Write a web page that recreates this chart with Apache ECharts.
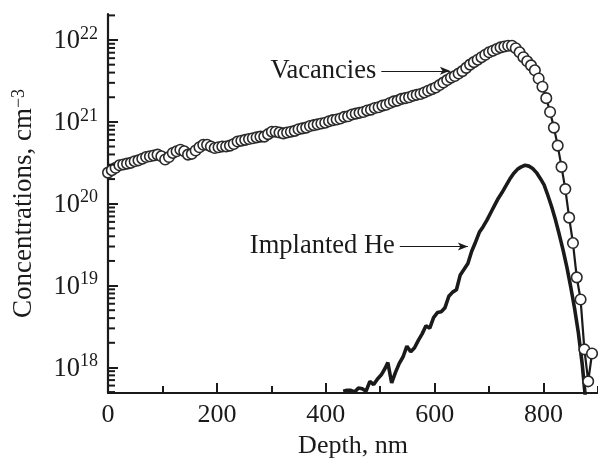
<!DOCTYPE html>
<html>
<head>
<meta charset="utf-8">
<script src="https://cdn.jsdelivr.net/npm/echarts@6/dist/echarts.min.js"></script>
<style>
  html, body { margin: 0; padding: 0; background: #fff; }
  #chart { width: 598px; height: 464px; }
</style>
</head>
<body>
<div id="chart"></div>
<script>
// depth grid of the vacancy profile, nm
const vacDepth = [
  0, 7, 14, 21, 28, 35, 42, 49, 56, 63,
  70, 77, 84, 91, 98, 105, 112, 119, 126, 133,
  140, 147, 154, 161, 168, 175, 182, 189, 196, 203,
  210, 217, 224, 231, 238, 245, 252, 259, 266, 273,
  280, 287, 294, 301, 308, 315, 322, 329, 336, 343,
  350, 357, 364, 371, 378, 385, 392, 399, 406, 413,
  420, 427, 434, 441, 448, 455, 462, 469, 476, 483,
  490, 497, 504, 511, 518, 525, 532, 539, 546, 553,
  560, 567, 574, 581, 588, 595, 602, 609, 616, 623,
  630, 637, 644, 651, 658, 665, 672, 679, 686, 693,
  700, 707, 714, 721, 728, 735, 742, 749, 756, 763,
  770, 777, 784, 791, 798, 805, 812, 819, 826, 833,
  840, 847, 854, 861, 868, 875, 882, 889
]
// vacancies, cm^-3
const vacancies = [
  2.40e20, 2.57e20, 2.75e20, 2.95e20, 3.02e20, 3.09e20, 3.16e20, 3.31e20, 3.39e20, 3.55e20,
  3.72e20, 3.80e20, 3.89e20, 3.98e20, 3.80e20, 3.47e20, 3.72e20, 4.17e20, 4.37e20, 4.57e20,
  4.37e20, 3.98e20, 4.07e20, 4.47e20, 4.90e20, 5.25e20, 5.25e20, 5.01e20, 4.79e20, 4.90e20,
  5.01e20, 5.01e20, 5.13e20, 5.37e20, 5.75e20, 5.89e20, 6.03e20, 6.17e20, 6.31e20, 6.46e20,
  6.61e20, 6.61e20, 7.08e20, 7.59e20, 7.59e20, 7.41e20, 7.24e20, 7.41e20, 7.59e20, 7.76e20,
  8.13e20, 8.32e20, 8.51e20, 8.91e20, 9.12e20, 9.33e20, 9.55e20, 9.77e20, 1.02e21, 1.05e21,
  1.07e21, 1.10e21, 1.15e21, 1.17e21, 1.23e21, 1.26e21, 1.29e21, 1.32e21, 1.38e21, 1.41e21,
  1.48e21, 1.51e21, 1.58e21, 1.62e21, 1.70e21, 1.78e21, 1.82e21, 1.91e21, 1.95e21, 2.00e21,
  2.09e21, 2.14e21, 2.19e21, 2.29e21, 2.40e21, 2.51e21, 2.63e21, 2.82e21, 3.02e21, 3.24e21,
  3.47e21, 3.63e21, 3.89e21, 4.17e21, 4.57e21, 5.01e21, 5.37e21, 5.75e21, 6.17e21, 6.61e21,
  7.08e21, 7.41e21, 7.76e21, 8.13e21, 8.32e21, 8.51e21, 8.51e21, 7.94e21, 7.08e21, 6.17e21,
  5.50e21, 4.90e21, 4.27e21, 3.39e21, 2.69e21, 1.95e21, 1.32e21, 8.51e20, 5.13e20, 2.82e20,
  1.51e20, 6.76e19, 3.31e19, 1.26e19, 6.76e18, 1.66e18, 6.76e17, 1.48e18
]
// implanted He profile
const heDepth = [
  432, 439, 446, 453, 460, 467, 474, 481, 488, 495,
  502, 509, 514, 521, 528, 535, 542, 549, 556, 563,
  570, 577, 584, 591, 598, 605, 612, 619, 626, 633,
  640, 647, 654, 661, 668, 675, 682, 689, 696, 703,
  710, 717, 724, 731, 738, 745, 752, 759, 766, 773,
  780, 787, 794, 801, 808, 815, 822, 829, 836, 843,
  850, 857, 864, 871, 878
]
const helium = [
  5.13e17, 5.25e17, 5.25e17, 5.01e17, 5.62e17, 5.50e17, 5.13e17, 6.76e17, 6.17e17, 7.24e17,
  8.13e17, 9.77e17, 1.15e18, 6.46e17, 8.71e17, 1.12e18, 1.35e18, 1.82e18, 1.55e18, 1.74e18,
  2.14e18, 2.57e18, 3.24e18, 3.02e18, 4.07e18, 4.68e18, 4.79e18, 5.37e18, 7.41e18, 8.32e18,
  8.91e18, 1.35e19, 1.58e19, 1.86e19, 2.63e19, 3.39e19, 4.47e19, 5.25e19, 6.31e19, 7.76e19,
  9.55e19, 1.17e20, 1.38e20, 1.66e20, 2.00e20, 2.34e20, 2.63e20, 2.82e20, 2.95e20, 2.88e20,
  2.69e20, 2.40e20, 2.04e20, 1.70e20, 1.26e20, 9.12e19, 6.31e19, 4.17e19, 2.69e19, 1.66e19,
  9.55e18, 5.25e18, 2.63e18, 1.10e18, 3.55e17
]
// minor ticks of the log axis
const yMinorTicks = [
  5e17, 6e17, 7e17, 8e17, 9e17,
  2e18, 3e18, 4e18, 5e18, 6e18, 7e18, 8e18, 9e18,
  2e19, 3e19, 4e19, 5e19, 6e19, 7e19, 8e19, 9e19,
  2e20, 3e20, 4e20, 5e20, 6e20, 7e20, 8e20, 9e20,
  2e21, 3e21, 4e21, 5e21, 6e21, 7e21, 8e21, 9e21,
  2e22
]
const yMin = 4.87e17
const yMax = 2.08e22
// arrow annotations: [label, x0, x1, y]
const vacArrow = ['Vacancies', 502, 628, 4.2e21]
const heArrow = ['Implanted He', 536, 661, 3.0e19]

const FONT = 'Liberation Serif'
const INK = '#1a1a1a'

const chart = echarts.init(document.getElementById('chart'), null, { renderer: 'canvas' })

function zip(xs, ys) {
  return xs.map((x, i) => [x, ys[i]])
}

function arrowLine(a) {
  return {
    silent: true,
    symbol: ['none', 'arrow'],
    symbolSize: [6, 10],
    lineStyle: { color: INK, width: 1, type: 'solid' },
    label: {
      show: true,
      position: 'start',
      distance: 5,
      formatter: a[0],
      color: INK,
      fontFamily: FONT,
      fontSize: 26.5
    },
    data: [[{ coord: [a[1], a[3]] }, { coord: [a[2], a[3]] }]]
  }
}

const option = {
  animation: false,
  backgroundColor: '#fff',
  grid: { left: 108, right: 0, top: 14, bottom: 71, containLabel: false },
  xAxis: [
    {
      type: 'value',
      position: 'bottom',
      min: 0,
      max: 900,
      interval: 200,
      name: 'Depth, nm',
      nameLocation: 'middle',
      nameGap: 39,
      nameTextStyle: { fontFamily: FONT, fontSize: 26, color: INK },
      axisLine: { show: true, lineStyle: { color: INK, width: 2.2 } },
      axisTick: { show: true, inside: true, length: 10, lineStyle: { color: INK, width: 2 } },
      axisLabel: {
        margin: 9, showMaxLabel: false,
        fontFamily: FONT, fontSize: 26, color: INK
      },
      splitLine: { show: false }
    },
    {
      type: 'value',
      position: 'bottom',
      min: 0,
      max: 900,
      interval: 100,
      axisLine: { show: false },
      axisTick: { show: true, inside: true, length: 7, lineStyle: { color: INK, width: 2 } },
      axisLabel: { show: false },
      splitLine: { show: false }
    }
  ],
  yAxis: {
    type: 'log',
    logBase: 10,
    min: yMin,
    max: yMax,
    name: 'Concentrations, cm{sup|−3}',
    nameLocation: 'middle',
    nameGap: 71,
    nameTextStyle: {
      fontFamily: FONT, fontSize: 27, color: INK,
      rich: {
        sup: { fontFamily: FONT, fontSize: 18, color: INK, verticalAlign: 'top', lineHeight: 18 }
      }
    },
    axisLine: { show: true, lineStyle: { color: INK, width: 2.2 } },
    axisTick: { show: true, inside: true, length: 10, lineStyle: { color: INK, width: 2 } },
    axisLabel: {
      margin: 10,
      showMinLabel: false,
      showMaxLabel: false,
      formatter: (v) => '{b|10}{s|' + Math.round(Math.log10(v)) + '}',
      rich: {
        b: { fontFamily: FONT, fontSize: 26.5, color: INK, lineHeight: 30, verticalAlign: 'bottom' },
        s: { fontFamily: FONT, fontSize: 18, color: INK, lineHeight: 18, verticalAlign: 'top' }
      }
    },
    splitLine: { show: false }
  },
  series: [
    {
      name: 'minor ticks',
      type: 'custom',
      silent: true,
      clip: false,
      data: yMinorTicks.map(v => [0, v]),
      renderItem: (params, api) => {
        const p = api.coord([api.value(0), api.value(1)])
        return {
          type: 'line',
          shape: { x1: p[0], y1: p[1], x2: p[0] + 7, y2: p[1] },
          style: { stroke: INK, lineWidth: 2, fill: null }
        }
      },
      z: 5
    },
    {
      name: 'Implanted He',
      type: 'line',
      data: zip(heDepth, helium),
      showSymbol: false,
      symbol: 'none',
      lineStyle: { color: INK, width: 3.6 },
      markLine: arrowLine(heArrow),
      z: 3
    },
    {
      name: 'Vacancies',
      type: 'line',
      data: zip(vacDepth, vacancies),
      symbol: 'circle',
      symbolSize: 10.5,
      showAllSymbol: true,
      lineStyle: { color: INK, width: 2.2 },
      itemStyle: { color: '#fff', borderColor: '#2a2a2a', borderWidth: 1.6 },
      markLine: arrowLine(vacArrow),
      z: 4
    }
  ]
}

chart.setOption(option)
</script>
</body>
</html>
